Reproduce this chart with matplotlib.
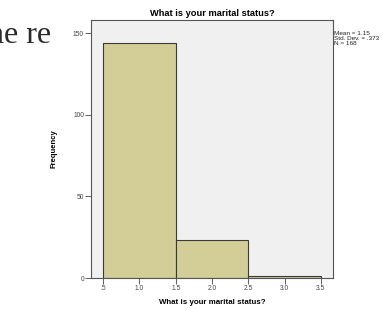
import numpy as np
import matplotlib
matplotlib.use("Agg")
import matplotlib.pyplot as plt

plt.rcParams["font.family"] = ["Liberation Sans", "DejaVu Sans"]

# Histogram of marital status (SPSS style)
categories = [1.0, 2.0, 3.0]
counts = [144, 23, 1]
bin_edges = [0.5, 1.5, 2.5, 3.5]
x_ticks = [0.5, 1.0, 1.5, 2.0, 2.5, 3.0, 3.5]
x_ticklabels = [".5", "1.0", "1.5", "2.0", "2.5", "3.0", "3.5"]
y_ticks = [0, 50, 100, 150]
stats_text = "Mean = 1.15\nStd. Dev. = .373\nN = 168"

fig = plt.figure(figsize=(3.82, 3.09), dpi=100, facecolor="white")

# clipped stray text at top left
ax_bg = fig.add_axes([0, 0.80, 0.131, 0.2])
ax_bg.axis("off")
ax_bg.set_xlim(0, 1)
ax_bg.set_ylim(0, 1)
t = ax_bg.text(-0.23, 0.31, "ne res", fontsize=23, family="Liberation Serif",
               color="#2A2A2A", va="baseline", ha="left")
t.set_clip_on(True)

ax = fig.add_axes([0.238, 0.1003, 0.634, 0.8347])
ax.set_facecolor("#F0F0F0")
widths = np.diff(bin_edges)
ax.bar(categories, counts, width=widths, color="#D3CE97",
       edgecolor="#3A3A3A", linewidth=0.8, zorder=2)

ax.set_xlim(0.33, 3.67)
ax.set_ylim(0, 158)
ax.set_xticks(x_ticks)
ax.set_xticklabels(x_ticklabels)
ax.set_yticks(y_ticks)
ax.tick_params(axis="both", labelsize=4.8, colors="#444444", length=4,
               width=0.6, pad=1)
for s in ax.spines.values():
    s.set_color("#555555")
    s.set_linewidth(0.8)

ax.set_title("What is your marital status?", fontsize=6.7, fontweight="bold",
             pad=3)
ax.set_xlabel("What is your marital status?", fontsize=5.7, fontweight="bold",
              labelpad=5)
ax.set_ylabel("Frequency", fontsize=5.5, fontweight="bold", labelpad=11)

fig.text(0.874, 0.899, stats_text, fontsize=4.6, va="top", ha="left",
         linespacing=1.0, color="#222222")

fig.savefig("out.png", dpi=100, facecolor="white")
